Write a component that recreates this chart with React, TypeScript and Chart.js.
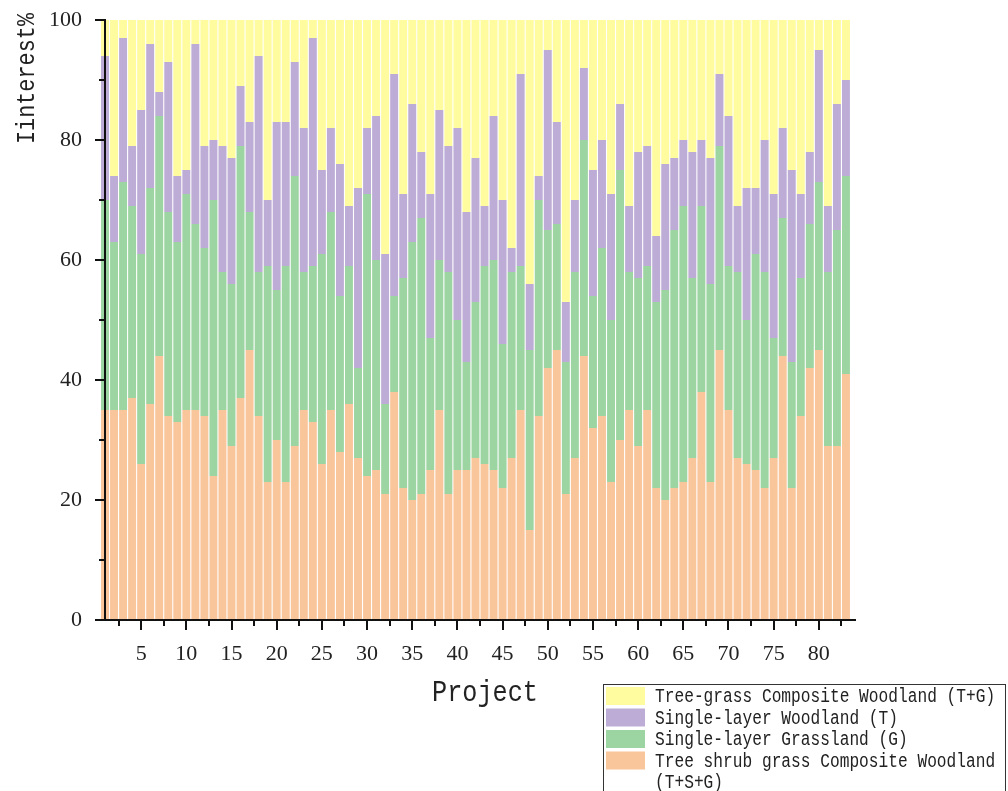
import React, { useEffect, useRef } from "react";
import { Chart, registerables } from "chart.js";

Chart.register(...registerables);

// ---- Data ----
const projects = [
  1, 2, 3, 4, 5, 6, 7, 8, 9, 10,
  11, 12, 13, 14, 15, 16, 17, 18, 19, 20,
  21, 22, 23, 24, 25, 26, 27, 28, 29, 30,
  31, 32, 33, 34, 35, 36, 37, 38, 39, 40,
  41, 42, 43, 44, 45, 46, 47, 48, 49, 50,
  51, 52, 53, 54, 55, 56, 57, 58, 59, 60,
  61, 62, 63, 64, 65, 66, 67, 68, 69, 70,
  71, 72, 73, 74, 75, 76, 77, 78, 79, 80,
  81, 82, 83,
];

// Tree shrub grass Composite Woodland (T+S+G) - bottom
const treeShrubGrass = [
  35, 35, 35, 37, 26, 36, 44, 34, 33, 35,
  35, 34, 24, 35, 29, 37, 45, 34, 23, 30,
  23, 29, 35, 33, 26, 35, 28, 36, 27, 24,
  25, 21, 38, 22, 20, 21, 25, 35, 21, 25,
  25, 27, 26, 25, 22, 27, 35, 15, 34, 42,
  45, 21, 27, 44, 32, 34, 23, 30, 35, 29,
  35, 22, 20, 22, 23, 27, 38, 23, 45, 35,
  27, 26, 25, 22, 27, 44, 22, 34, 42, 45,
  29, 29, 41,
];

// Single-layer Grassland (G)
const grassland = [
  35, 28, 38, 32, 35, 36, 40, 34, 30, 36,
  31, 28, 46, 23, 27, 42, 23, 24, 36, 25,
  36, 45, 23, 26, 35, 33, 26, 23, 15, 47,
  35, 15, 16, 35, 43, 46, 22, 25, 37, 25,
  18, 26, 33, 35, 24, 31, 24, 30, 36, 23,
  21, 22, 31, 36, 22, 28, 27, 45, 23, 28,
  24, 31, 35, 43, 46, 30, 31, 33, 34, 24,
  31, 24, 36, 36, 20, 23, 21, 23, 24, 28,
  29, 36, 33,
];

// Single-layer Woodland (T)
const woodland = [
  24, 11, 24, 10, 24, 24, 4, 25, 11, 4,
  30, 17, 10, 21, 21, 10, 15, 36, 11, 28,
  24, 19, 24, 38, 14, 14, 22, 10, 30, 11,
  24, 25, 37, 14, 23, 11, 24, 25, 21, 32,
  25, 24, 10, 24, 24, 4, 32, 11, 4, 30,
  17, 10, 12, 12, 21, 18, 21, 11, 11, 21,
  20, 11, 21, 12, 11, 21, 11, 21, 12, 25,
  11, 22, 11, 22, 24, 15, 32, 14, 12, 22,
  11, 21, 16,
];

// Tree-grass Composite Woodland (T+G) - top
const treeGrass = [
  6, 26, 3, 21, 15, 4, 12, 7, 26, 25,
  4, 21, 20, 21, 23, 11, 17, 6, 30, 17,
  17, 7, 18, 3, 25, 18, 24, 31, 28, 18,
  16, 39, 9, 29, 14, 22, 29, 15, 21, 18,
  32, 23, 31, 16, 30, 38, 9, 44, 26, 5,
  17, 47, 30, 8, 25, 20, 29, 14, 31, 22,
  21, 36, 24, 23, 20, 22, 20, 23, 9, 16,
  31, 28, 28, 20, 29, 18, 25, 29, 22, 5,
  31, 14, 10,
];

const seriesLabels = [
  "Tree shrub grass Composite Woodland (T+S+G)",
  "Single-layer Grassland (G)",
  "Single-layer Woodland (T)",
  "Tree-grass Composite Woodland (T+G)",
];
const seriesColors = ["#F9C59B", "#9DD5A2", "#BDADD6", "#FFFB9F"];

const xTickValues = [5, 10, 15, 20, 25, 30, 35, 40, 45, 50, 55, 60, 65, 70, 75, 80];
const xMinorTicks = [2.5, 7.5, 12.5, 17.5, 22.5, 27.5, 32.5, 37.5, 42.5, 47.5, 52.5, 57.5, 62.5, 67.5, 72.5, 77.5, 82.5];
const yTickValues = [0, 20, 40, 60, 80, 100];
const yMinorTicks = [10, 30, 50, 70, 90];

const xTitle = "Project";
const yTitle = "Iinterest%";

const MONO = '"Liberation Mono"';
const SQUEEZE = 0.84; // narrow mono glyphs like a half-width CJK font

function narrowText(ctx: any, text: string, x: number, y: number, align: "left" | "center" | "right") {
  const w = ctx.measureText(text).width * SQUEEZE;
  let sx = x;
  if (align === "center") sx = x - w / 2;
  if (align === "right") sx = x - w;
  ctx.save();
  ctx.translate(sx, y);
  ctx.scale(SQUEEZE, 1);
  ctx.textAlign = "left";
  ctx.fillText(text, 0, 0);
  ctx.restore();
}

// ---- Decorations plugin: ticks, axis lines, titles, legend ----
const decorPlugin = {
  id: "decor",
  afterDraw(chart: any) {
    const { ctx, chartArea, scales } = chart;
    const xs = scales.x;
    const ys = scales.y;
    const left = chartArea.left;
    const bottom = chartArea.bottom;
    ctx.save();
    ctx.strokeStyle = "#111";
    ctx.lineWidth = 2;
    // axis lines
    ctx.beginPath();
    ctx.moveTo(left, chartArea.top);
    ctx.lineTo(left, bottom);
    ctx.lineTo(chartArea.right, bottom);
    ctx.stroke();
    // y ticks
    const yTick = (v: number, len: number) => {
      const py = Math.round(ys.getPixelForValue(v));
      ctx.beginPath();
      ctx.moveTo(left - len, py);
      ctx.lineTo(left, py);
      ctx.stroke();
    };
    yTickValues.forEach((v) => yTick(v, 10));
    yMinorTicks.forEach((v) => yTick(v, 6));
    // x ticks
    const xTick = (v: number, len: number) => {
      const px = Math.round(xs.getPixelForValue(v));
      ctx.beginPath();
      ctx.moveTo(px, bottom);
      ctx.lineTo(px, bottom + len);
      ctx.stroke();
    };
    xTickValues.forEach((v) => xTick(v, 10));
    xMinorTicks.forEach((v) => xTick(v, 6));

    // axis titles
    ctx.fillStyle = "#222";
    ctx.font = "26px " + MONO;
    ctx.textBaseline = "middle";
    ctx.save();
    ctx.translate(27, 13);
    ctx.rotate(-Math.PI / 2);
    narrowText(ctx, yTitle, 0, 0, "right");
    ctx.restore();

    ctx.font = "30px " + MONO;
    ctx.textBaseline = "alphabetic";
    narrowText(ctx, xTitle, 485, 701, "center");

    // legend
    const boxX = 603.5;
    const boxY = 684.5;
    ctx.lineWidth = 1;
    ctx.strokeStyle = "#333";
    ctx.strokeRect(boxX, boxY, 402, 140);
    ctx.font = "19.3px " + MONO;
    ctx.textBaseline = "middle";
    const textX = 655;
    const maxW = 1004 - textX;
    const pitch = 21.5;
    let row = 0;
    const ds = chart.data.datasets;
    for (let i = ds.length - 1; i >= 0; i--) {
      const cy = 697 + row * pitch;
      ctx.fillStyle = ds[i].backgroundColor;
      ctx.fillRect(606, cy - 10, 39, 18);
      ctx.fillStyle = "#222";
      // wrap text
      const words = String(ds[i].label).split(" ");
      const lines: string[] = [];
      let cur = "";
      words.forEach((w) => {
        const test = cur ? cur + " " + w : w;
        if (ctx.measureText(test).width * SQUEEZE > maxW && cur) {
          lines.push(cur);
          cur = w;
        } else {
          cur = test;
        }
      });
      if (cur) lines.push(cur);
      lines.forEach((ln, k) => {
        narrowText(ctx, ln, textX, cy + k * pitch, "left");
      });
      row += lines.length;
    }
    ctx.restore();
  },
};

export default function App() {
  const canvasRef = useRef<HTMLCanvasElement | null>(null);

  useEffect(() => {
    const canvas = canvasRef.current;
    if (!canvas) return;
    const seriesData = [treeShrubGrass, grassland, woodland, treeGrass];
    const chart = new Chart(canvas, {
      type: "bar",
      data: {
        datasets: seriesData.map((arr, i) => ({
          label: seriesLabels[i],
          data: projects.map((p, j) => ({ x: p, y: arr[j] })),
          backgroundColor: seriesColors[i],
          borderWidth: 0,
          barPercentage: 0.88,
          categoryPercentage: 1,
          clip: false as any,
        })),
      },
      options: {
        responsive: false,
        animation: false,
        layout: { padding: { top: 20, right: 153, left: 0, bottom: 0 } },
        plugins: {
          legend: { display: false },
          tooltip: { enabled: false },
        },
        scales: {
          x: {
            type: "linear",
            min: 1,
            max: 84,
            offset: false,
            stacked: true,
            grid: { display: false, drawTicks: true, tickLength: 10, offset: false },
            border: { display: true, color: "#111", width: 2 },
            ticks: {
              font: { family: "Liberation Serif", size: 22 },
              color: "#222",
              padding: 11,
              autoSkip: false,
              maxRotation: 0,
            },
            afterBuildTicks: (s: any) => {
              s.ticks = xTickValues.map((v) => ({ value: v }));
            },
            afterFit: (s: any) => {
              s.height = 171;
              s.paddingLeft = 0;
              s.paddingRight = 0;
            },
          } as any,
          y: {
            type: "linear",
            min: 0,
            max: 100,
            stacked: true,
            grid: { display: false, drawTicks: true, tickLength: 10 },
            border: { display: true, color: "#111", width: 2 },
            ticks: {
              font: { family: "Liberation Serif", size: 22 },
              color: "#222",
              padding: 13,
            },
            afterBuildTicks: (s: any) => {
              s.ticks = yTickValues.map((v) => ({ value: v }));
            },
            afterFit: (s: any) => {
              s.width = 105;
              s.paddingTop = 0;
              s.paddingBottom = 0;
            },
          } as any,
        },
      },
      plugins: [decorPlugin],
    });
    return () => chart.destroy();
  }, []);

  return (
    <div style={{ position: "absolute", left: 0, top: 0, width: 1008, height: 791, background: "#fff" }}>
      <canvas ref={canvasRef} width={1008} height={791} style={{ display: "block" }} />
    </div>
  );
}
